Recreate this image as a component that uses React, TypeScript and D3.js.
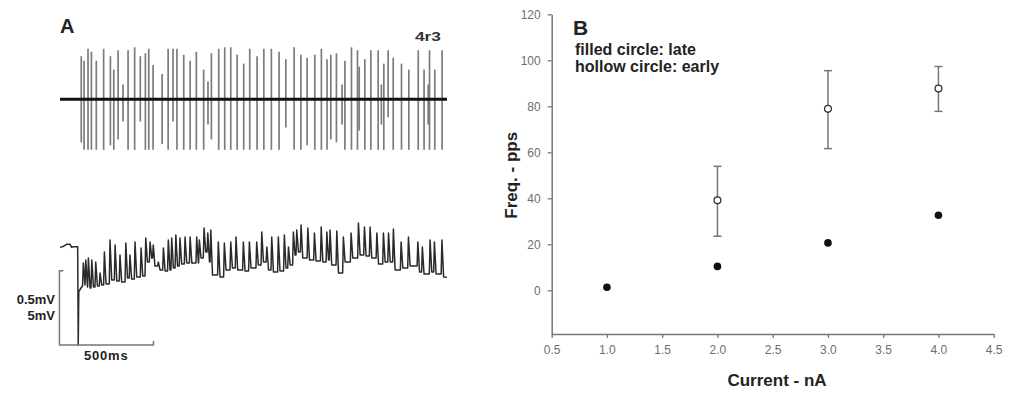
import * as d3 from 'd3'
import { useEffect, useRef } from 'react';

// ---- panel A, top trace: extracellular spikes (ms, mV relative to baseline)
const spikeTimesMs = [113,128,149,167,193,232,268,286,309,335,362,397,427,454,472,495,543,575,601,622,658,692,725,764,787,805,844,876,908,942,977,1009,1048,1084,1124,1165,1201,1245,1281,1314,1355,1390,1420,1440,1470,1500,1515,1550,1582,1591,1621,1653,1692,1709,1722,1745,1772,1816,1855,1905,1936,1958,1965,1993,2032];
const spikeUpMv = [0.29,0.26,0.34,0.32,0.26,0.34,0.29,0.20,0.33,0.10,0.33,0.35,0.29,0.31,0.34,0.23,0.17,0.34,0.34,0.34,0.30,0.26,0.32,0.20,0.12,0.31,0.34,0.35,0.35,0.30,0.24,0.34,0.29,0.34,0.34,0.32,0.27,0.35,0.30,0.28,0.30,0.34,0.27,0.30,0.31,0.10,0.26,0.35,0.33,0.22,0.27,0.33,0.33,0.10,0.24,0.33,0.28,0.24,0.20,0.33,0.20,0.10,0.33,0.20,0.33];
const spikeDownMv = [0.29,0.34,0.34,0.34,0.34,0.34,0.31,0.34,0.27,0.15,0.34,0.34,0.15,0.34,0.34,0.34,0.30,0.34,0.15,0.34,0.34,0.34,0.34,0.34,0.17,0.27,0.34,0.34,0.34,0.34,0.34,0.34,0.34,0.34,0.34,0.34,0.19,0.34,0.34,0.31,0.34,0.34,0.34,0.27,0.29,0.17,0.34,0.34,0.34,0.21,0.34,0.34,0.34,0.17,0.34,0.12,0.34,0.34,0.34,0.34,0.34,0.17,0.34,0.34,0.34];

// ---- panel A, bottom trace: membrane potential (ms, mV)
const mpStartPoints = [[0,2.87],[20,2.95],[37,3.08],[53,3.08],[62,2.87],[69,2.91],[94,2.91],[97,-3.7],[100,-0.1],[110,0.1],[118,0.25]];
const mpSpikeTimesMs = [124,137,151,169,190,213,236,266,293,319,350,372,399,431,456,479,496,523,550,576,594,616,638,665,692,727,741,766,786,802,842,874,908,936,975,1007,1046,1073,1100,1126,1161,1193,1215,1241,1259,1282,1318,1353,1389,1419,1436,1472,1507,1548,1587,1619,1649,1685,1720,1747,1773,1814,1853,1903,1927,1968,1991,2031];
const mpPeakMv = [1.82,2.02,2.15,2.02,1.88,1.14,2.56,3.37,3.03,2.36,3.16,2.36,3.23,2.83,3.50,3.23,3.03,1.88,2.83,3.37,3.50,3.70,3.50,3.57,3.57,3.57,3.37,4.17,3.84,4.04,3.23,3.16,3.23,3.57,3.23,3.23,3.23,3.90,2.89,3.57,3.57,3.70,2.89,3.90,4.04,4.37,4.17,3.84,4.24,3.90,4.04,3.97,3.57,3.84,4.51,4.24,4.24,3.84,3.84,3.84,4.11,3.23,3.57,3.23,2.89,3.37,3.23,3.37];
const mpTroughMv = [0.34,0.20,0.13,0.20,0.27,0.34,0.40,0.67,0.61,0.54,0.81,0.74,0.87,0.94,1.88,2.15,1.62,1.35,1.28,1.35,1.48,1.62,1.75,1.82,1.82,1.82,2.15,2.56,1.88,1.01,0.87,1.35,1.48,1.35,1.28,1.48,1.68,1.88,1.35,1.21,1.28,1.48,1.68,2.36,2.56,2.15,2.02,1.95,1.88,2.02,1.68,1.14,1.88,2.15,2.36,2.29,2.15,1.75,1.88,1.88,1.35,1.48,1.62,1.21,1.08,1.21,1.08,0.87];
const mpEnd = [2058, 0.85];

// ---- panel B: frequency vs current
const currentNa = [1, 2, 3, 4];
const lateFreq = [1.3, 10.4, 20.6, 32.6];
const earlyCurrentNa = [2, 3, 4];
const earlyFreq = [39.1, 78.9, 87.7];
const earlyLow = [23.5, 61.6, 77.8];
const earlyHigh = [53.9, 95.5, 97.3];
const xTicks = [0.5, 1.0, 1.5, 2.0, 2.5, 3.0, 3.5, 4.0, 4.5];
const yTicks = [0, 20, 40, 60, 80, 100, 120];

const FONT = "'Liberation Sans', Arial, sans-serif";

function drawChart(svgEl: SVGSVGElement) {
    const svg = d3.select(svgEl);
    svg.selectAll("*").remove();

    // ================= panel A =================
    const x = d3.scaleLinear().domain([0, 2058]).range([60, 447]);
    const yTop = d3.scaleLinear().domain([0, 0.5]).range([99.3, 25]);
    const yBot = d3.scaleLinear().domain([0, 5]).range([290, 215.7]);

    svg.append("text").text("A").attr("x", 60).attr("y", 33)
        .attr("font-family", FONT).attr("font-size", 20).attr("font-weight", "bold").attr("fill", "#222");
    svg.append("text").text("4r3").attr("x", 415).attr("y", 41)
        .attr("textLength", 26).attr("lengthAdjust", "spacingAndGlyphs")
        .attr("font-family", FONT).attr("font-size", 13).attr("font-weight", "bold").attr("fill", "#333");

    // spikes
    svg.append("g").selectAll("line").data(spikeTimesMs).enter().append("line")
        .attr("x1", d => x(d)).attr("x2", d => x(d))
        .attr("y1", (d, i) => yTop(spikeUpMv[i]))
        .attr("y2", (d, i) => yTop(-spikeDownMv[i]))
        .attr("stroke", "#7c7c7c").attr("stroke-width", 1.7);
    // baseline
    svg.append("line")
        .attr("x1", x(0)).attr("x2", x(2058)).attr("y1", yTop(0)).attr("y2", yTop(0))
        .attr("stroke", "#111").attr("stroke-width", 3);

    // membrane potential path
    const pts: [number, number][] = mpStartPoints.map(p => [p[0], p[1]] as [number, number]);
    let prev = mpStartPoints[mpStartPoints.length - 1][1];
    mpSpikeTimesMs.forEach((t, i) => {
        pts.push([t - 4, prev]);
        pts.push([t, mpPeakMv[i]]);
        pts.push([t + 9, mpTroughMv[i]]);
        prev = mpTroughMv[i];
    });
    pts.push([mpEnd[0], mpEnd[1]]);
    const line = d3.line<[number, number]>().x(d => x(d[0])).y(d => yBot(d[1]));
    svg.append("path").attr("d", line(pts))
        .attr("fill", "none").attr("stroke", "#2a2a2a").attr("stroke-width", 1.5)
        .attr("stroke-linejoin", "round");

    // scale bar: 500 ms x 0.5 mV (top) / 5 mV (bottom)
    const sbT = -3, sbV = -3.7;
    const sb = svg.append("g").attr("stroke", "#777").attr("stroke-width", 1.5).attr("fill", "none");
    sb.append("path").attr("d",
        `M${x(sbT) + 4},${yBot(sbV + 5)}H${x(sbT)}V${yBot(sbV)}H${x(sbT + 500)}V${yBot(sbV) - 4}`);
    svg.append("text").text("0.5mV").attr("x", 55).attr("y", 304).attr("text-anchor", "end")
        .attr("font-family", FONT).attr("font-size", 13).attr("font-weight", "bold").attr("fill", "#222");
    svg.append("text").text("5mV").attr("x", 55).attr("y", 320).attr("text-anchor", "end")
        .attr("font-family", FONT).attr("font-size", 13).attr("font-weight", "bold").attr("fill", "#222");
    svg.append("text").text("500ms").attr("x", 84).attr("y", 360)
        .attr("font-family", FONT).attr("font-size", 13).attr("font-weight", "bold").attr("fill", "#222")
        .attr("letter-spacing", 0.8);

    // ================= panel B =================
    const xs = d3.scaleLinear().domain([0.5, 4.5]).range([551.7, 993.7]);
    const ys = d3.scaleLinear().domain([-19, 120]).range([334, 14.3]);
    const axisColor = "#777";

    const gx = svg.append("g").attr("transform", `translate(0,${ys(-19)})`)
        .call(d3.axisBottom(xs).tickValues(xTicks).tickFormat(d3.format(".1f")).tickSize(4).tickSizeOuter(0));
    const gy = svg.append("g").attr("transform", `translate(${xs(0.5)},0)`)
        .call(d3.axisLeft(ys).tickValues(yTicks).tickSize(4).tickSizeOuter(0));
    [gx, gy].forEach(g => {
        g.select(".domain").attr("stroke", axisColor).attr("stroke-width", 1.5);
        g.selectAll(".tick line").attr("stroke", axisColor).attr("stroke-width", 1.3);
        g.selectAll(".tick text").attr("fill", "#6e6e6e").attr("font-family", FONT).attr("font-size", 12);
    });
    gx.selectAll(".tick text").attr("dy", "1.05em");
    gy.selectAll(".tick text").attr("x", -11);

    svg.append("text").text("Freq. - pps")
        .attr("transform", `translate(517,${ys(50)}) rotate(-90)`).attr("text-anchor", "middle")
        .attr("font-family", FONT).attr("font-size", 17).attr("font-weight", "bold").attr("fill", "#222");
    svg.append("text").text("Current - nA").attr("x", 777).attr("y", 386).attr("text-anchor", "middle")
        .attr("font-family", FONT).attr("font-size", 17).attr("font-weight", "bold").attr("fill", "#222");

    svg.append("text").text("B").attr("x", 573).attr("y", 35)
        .attr("font-family", FONT).attr("font-size", 21).attr("font-weight", "bold").attr("fill", "#222");
    svg.append("text").text("filled circle: late").attr("x", 575).attr("y", 55)
        .attr("font-family", FONT).attr("font-size", 16).attr("font-weight", "bold").attr("fill", "#222");
    svg.append("text").text("hollow circle: early").attr("x", 575).attr("y", 71.7)
        .attr("font-family", FONT).attr("font-size", 16).attr("font-weight", "bold").attr("fill", "#222");

    // error bars
    const eb = svg.append("g").attr("stroke", "#777").attr("stroke-width", 1.5);
    earlyCurrentNa.forEach((c, i) => {
        eb.append("line").attr("x1", xs(c)).attr("x2", xs(c)).attr("y1", ys(earlyLow[i])).attr("y2", ys(earlyHigh[i]));
        [earlyLow[i], earlyHigh[i]].forEach(v => {
            eb.append("line").attr("x1", xs(c) - 4).attr("x2", xs(c) + 4).attr("y1", ys(v)).attr("y2", ys(v));
        });
    });

    svg.append("g").selectAll("circle").data(earlyCurrentNa).enter().append("circle")
        .attr("cx", d => xs(d)).attr("cy", (d, i) => ys(earlyFreq[i])).attr("r", 3.4)
        .attr("fill", "#fff").attr("stroke", "#333").attr("stroke-width", 1.3);
    svg.append("g").selectAll("circle").data(currentNa).enter().append("circle")
        .attr("cx", d => xs(d)).attr("cy", (d, i) => ys(lateFreq[i])).attr("r", 3.8)
        .attr("fill", "#111");
}

function App() {
    const ref = useRef<SVGSVGElement>(null);
    useEffect(() => {
        document.body.style.margin = "0";
        if (ref.current) drawChart(ref.current);
    }, []);

    return (
        <svg ref={ref} width={1015} height={393} style={{ display: "block", background: "#fff" }}></svg>
    );
}

export default App;
